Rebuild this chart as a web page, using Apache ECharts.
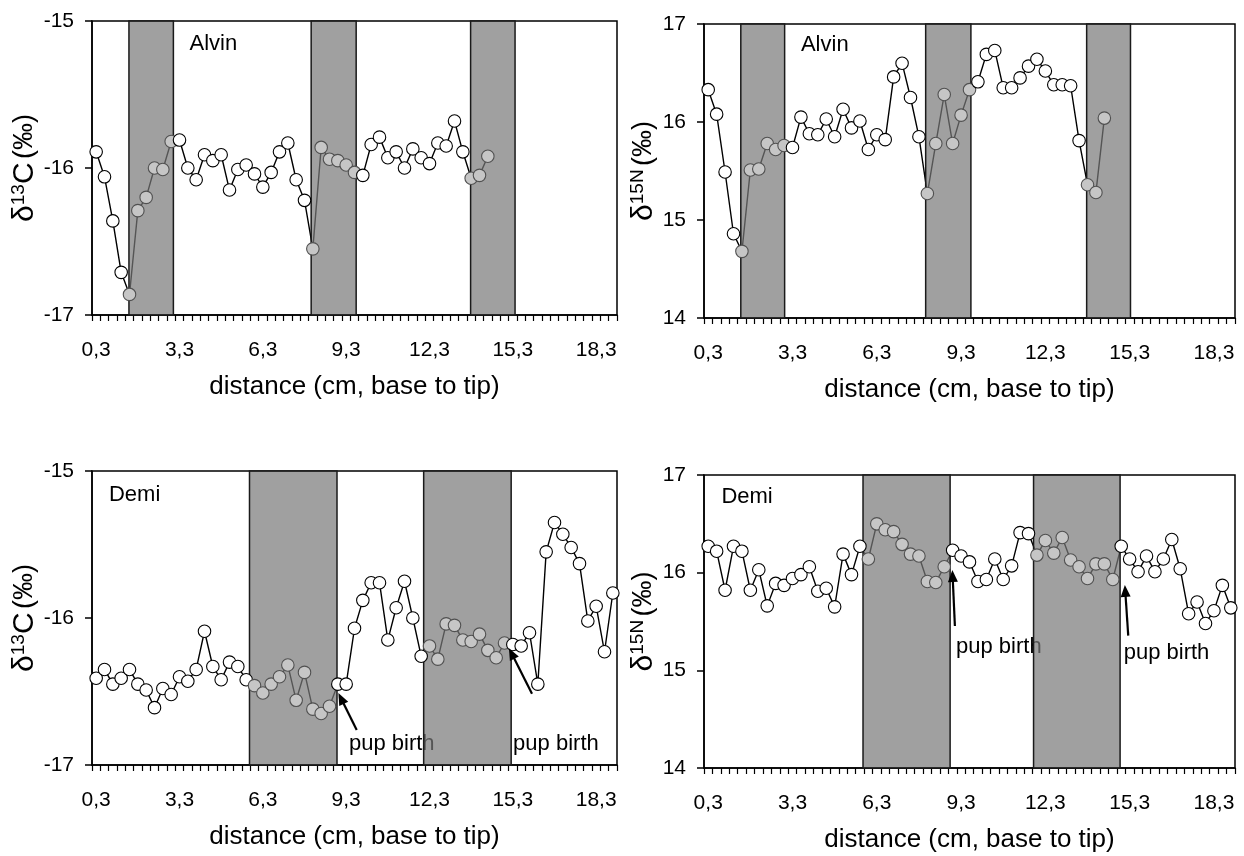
<!DOCTYPE html>
<html>
<head>
<meta charset="utf-8">
<script src="https://cdn.jsdelivr.net/npm/echarts@6/dist/echarts.min.js"></script>
<style>
  html, body { margin: 0; padding: 0; background: #fff; }
  #chart { width: 1244px; height: 856px; }
</style>
</head>
<body>
<div id="chart"></div>
<script>
// Sampling positions along the whisker (cm from base), one every 0.3 cm
const distances = [
  '0,3','0,6','0,9','1,2','1,5','1,8','2,1','2,4','2,7','3,0',
  '3,3','3,6','3,9','4,2','4,5','4,8','5,1','5,4','5,7','6,0',
  '6,3','6,6','6,9','7,2','7,5','7,8','8,1','8,4','8,7','9,0',
  '9,3','9,6','9,9','10,2','10,5','10,8','11,1','11,4','11,7','12,0',
  '12,3','12,6','12,9','13,2','13,5','13,8','14,1','14,4','14,7','15,0',
  '15,3','15,6','15,9','16,2','16,5','16,8','17,1','17,4','17,7','18,0',
  '18,3','18,6','18,9'
];

// Alvin: delta 13C and delta 15N (per mil)
const alvinC = [
  -15.89, -16.06, -16.36, -16.71, -16.86, -16.29, -16.20, -16.00, -16.01, -15.82,
  -15.81, -16.00, -16.08, -15.91, -15.95, -15.91, -16.15, -16.01, -15.98, -16.04,
  -16.13, -16.03, -15.89, -15.83, -16.08, -16.22, -16.55, -15.86, -15.94, -15.95,
  -15.98, -16.03, -16.05, -15.84, -15.79, -15.93, -15.89, -16.00, -15.87, -15.93,
  -15.97, -15.83, -15.85, -15.68, -15.89, -16.07, -16.05, -15.92
];
const alvinN = [
  16.33, 16.08, 15.49, 14.86, 14.68, 15.51, 15.52, 15.78, 15.72, 15.76,
  15.74, 16.05, 15.88, 15.87, 16.03, 15.85, 16.13, 15.94, 16.01, 15.72,
  15.87, 15.82, 16.46, 16.60, 16.25, 15.85, 15.27, 15.78, 16.28, 15.78,
  16.07, 16.33, 16.41, 16.69, 16.73, 16.35, 16.35, 16.45, 16.57, 16.64,
  16.52, 16.38, 16.38, 16.37, 15.81, 15.36, 15.28, 16.04
];

// Demi: delta 13C and delta 15N (per mil)
const demiC = [
  -16.41, -16.35, -16.45, -16.41, -16.35, -16.45, -16.49, -16.61, -16.48, -16.52,
  -16.40, -16.43, -16.35, -16.09, -16.33, -16.42, -16.30, -16.33, -16.42, -16.46,
  -16.51, -16.45, -16.40, -16.32, -16.56, -16.37, -16.62, -16.65, -16.60, -16.45,
  -16.45, -16.07, -15.88, -15.76, -15.76, -16.15, -15.93, -15.75, -16.00, -16.26,
  -16.19, -16.28, -16.04, -16.05, -16.15, -16.16, -16.11, -16.22, -16.27, -16.17,
  -16.18, -16.19, -16.10, -16.45, -15.55, -15.35, -15.43, -15.52, -15.63, -16.02,
  -15.92, -16.23, -15.83
];
const demiN = [
  16.27, 16.22, 15.82, 16.27, 16.22, 15.82, 16.03, 15.66, 15.89, 15.87,
  15.94, 15.98, 16.06, 15.81, 15.84, 15.65, 16.19, 15.98, 16.27, 16.14,
  16.50, 16.44, 16.42, 16.29, 16.19, 16.17, 15.91, 15.90, 16.06, 16.23,
  16.17, 16.11, 15.91, 15.93, 16.14, 15.93, 16.07, 16.41, 16.40, 16.18,
  16.33, 16.20, 16.36, 16.13, 16.06, 15.94, 16.09, 16.09, 15.93, 16.27,
  16.14, 16.01, 16.17, 16.01, 16.14, 16.34, 16.04, 15.58, 15.70, 15.48,
  15.61, 15.87, 15.64
];

// Shaded whisker segments (start cm, end cm)
const alvinCBands = [[1.48, 3.08], [8.04, 9.66], [13.78, 15.38]];
const alvinNBands = [[1.46, 3.02], [8.04, 9.65], [13.77, 15.33]];
const demiCBands  = [[5.82, 8.97], [12.09, 15.24]];
const demiNBands  = [[5.81, 8.91], [11.88, 14.96]];

const FONT = 'Liberation Sans';
const nameC = '{d|δ}{s|13}{d|C} {p|(‰)}';
const nameN = '{d|δ}{s|15N} {p|(‰)}';

const panels = [
  { grid: { left: 92, top: 21, width: 525, height: 294 }, values: alvinC, bands: alvinCBands,
    yMin: -17, yMax: -15, yName: nameC, yGap: 47,
    notes: [{ text: 'Alvin', at: [3.66, -15.156] }], arrows: [] },
  { grid: { left: 704, top: 24, width: 531, height: 294 }, values: alvinN, bands: alvinNBands,
    yMin: 14, yMax: 17, yName: nameN, yGap: 44,
    notes: [{ text: 'Alvin', at: [3.6, 16.786] }], arrows: [] },
  { grid: { left: 92, top: 471, width: 525, height: 294 }, values: demiC, bands: demiCBands,
    yMin: -17, yMax: -15, yName: nameC, yGap: 47,
    notes: [{ text: 'Demi', at: [0.76, -15.16] },
            { text: 'pup birth', at: [9.40, -16.857] },
            { text: 'pup birth', at: [15.31, -16.857] }],
    arrows: [{ from: [9.68, -16.762], to: [9.02, -16.511] },
             { from: [15.99, -16.516], to: [15.16, -16.205] }] },
  { grid: { left: 704, top: 475, width: 531, height: 293 }, values: demiN, bands: demiNBands,
    yMin: 14, yMax: 17, yName: nameN, yGap: 44,
    notes: [{ text: 'Demi', at: [0.77, 16.78] },
            { text: 'pup birth', at: [9.12, 15.236] },
            { text: 'pup birth', at: [15.09, 15.181] }],
    arrows: [{ from: [9.08, 15.454], to: [8.99, 16.027] },
             { from: [15.25, 15.355], to: [15.13, 15.874] }] }
];

const cmOf = i => parseFloat(distances[i].replace(',', '.'));
const insideBand = (bands, i) => bands.some(b => cmOf(i) >= b[0] && cmOf(i) <= b[1]);

const axisLine = { show: true, onZero: false, lineStyle: { color: '#000', width: 1.5 } };
const richName = {
  d: { fontSize: 30, fontFamily: FONT, color: '#000' },
  s: { fontSize: 19, fontFamily: FONT, color: '#000', verticalAlign: 'top' },
  p: { fontSize: 27, fontFamily: FONT, color: '#000' }
};

const grids = [], xAxes = [], yAxes = [], series = [];

panels.forEach((p, k) => {
  grids.push(Object.assign({ show: true, borderColor: '#000', borderWidth: 1.5, backgroundColor: '#fff' }, p.grid));

  // category axis carrying the samples
  xAxes.push({
    type: 'category', gridIndex: k, data: distances, boundaryGap: true, position: 'bottom',
    axisLine: axisLine,
    axisTick: { show: true, interval: 0, length: 6, inside: false, lineStyle: { color: '#000', width: 1.2 } },
    axisLabel: { interval: 9, fontSize: 21, fontFamily: FONT, color: '#000', margin: 25 },
    splitLine: { show: false },
    name: 'distance (cm, base to tip)', nameLocation: 'middle', nameGap: 59,
    nameTextStyle: { fontSize: 26, fontFamily: FONT, color: '#000' }
  });
  // continuous distance axis (cm) used for shaded segments and notes
  xAxes.push({ type: 'value', gridIndex: k, min: 0.15, max: 19.05, show: false });

  yAxes.push({
    type: 'value', gridIndex: k, min: p.yMin, max: p.yMax, interval: 1,
    axisLine: axisLine,
    axisTick: { show: true, length: 7, inside: false, lineStyle: { color: '#000', width: 1.5 } },
    axisLabel: { fontSize: 21, fontFamily: FONT, color: '#000', margin: 18 },
    splitLine: { show: false },
    name: p.yName, nameLocation: 'middle', nameGap: p.yGap,
    nameTextStyle: { fontFamily: FONT, color: '#000', rich: richName }
  });

  series.push({
    type: 'line', xAxisIndex: 2 * k, yAxisIndex: k, data: p.values,
    showSymbol: false, symbol: 'none', z: 2, silent: true, animation: false,
    lineStyle: { color: '#000', width: 1.4 }
  });

  series.push({
    type: 'custom', xAxisIndex: 2 * k + 1, yAxisIndex: k, z: 3, silent: true, animation: false,
    data: p.bands.map(b => [b[0], b[1]]),
    encode: { x: [0, 1] },
    renderItem: (params, api) => {
      const a = api.coord([api.value(0), p.yMax]);
      const b = api.coord([api.value(1), p.yMin]);
      return {
        type: 'rect',
        shape: { x: a[0], y: a[1], width: b[0] - a[0], height: b[1] - a[1] },
        style: { fill: 'rgba(120,120,120,0.706)', stroke: '#1a1a1a', lineWidth: 1.5 }
      };
    }
  });

  series.push({
    type: 'scatter', xAxisIndex: 2 * k, yAxisIndex: k, z: 4, silent: true, animation: false,
    symbol: 'circle', symbolSize: 12.5,
    itemStyle: { opacity: 1 },
    data: p.values.map((v, i) => ({
      value: [i, v],
      itemStyle: insideBand(p.bands, i)
        ? { color: '#c6c6c6', borderColor: '#505050', borderWidth: 1.1, opacity: 1 }
        : { color: '#fff', borderColor: '#000', borderWidth: 1.1, opacity: 1 }
    }))
  });
});

const chart = echarts.init(document.getElementById('chart'), null, { renderer: 'canvas' });
chart.setOption({
  animation: false,
  backgroundColor: '#fff',
  textStyle: { fontFamily: FONT },
  grid: grids, xAxis: xAxes, yAxis: yAxes, series: series
});

// labels and arrows placed in axis units of each panel
const graphics = [];
panels.forEach((p, k) => {
  const toPx = pt => chart.convertToPixel({ xAxisIndex: 2 * k + 1, yAxisIndex: k }, pt);
  p.notes.forEach(n => {
    const q = toPx(n.at);
    graphics.push({
      type: 'text', z: n.text === 'pup birth' ? 1 : 6, silent: true,
      style: { text: n.text, x: q[0], y: q[1], fill: '#000', fontSize: 22, fontFamily: FONT,
               align: 'left', verticalAlign: 'middle' }
    });
  });
  p.arrows.forEach(a => {
    const s = toPx(a.from), t = toPx(a.to);
    const dx = t[0] - s[0], dy = t[1] - s[1];
    const len = Math.hypot(dx, dy), ux = dx / len, uy = dy / len;
    const hl = 12, hw = 5;
    const bx = t[0] - ux * hl, by = t[1] - uy * hl;
    graphics.push({
      type: 'line', z: 6, silent: true,
      shape: { x1: s[0], y1: s[1], x2: bx + ux * 2, y2: by + uy * 2 },
      style: { stroke: '#000', lineWidth: 2.2 }
    });
    graphics.push({
      type: 'polygon', z: 6, silent: true,
      shape: { points: [[t[0], t[1]], [bx - uy * hw, by + ux * hw], [bx + uy * hw, by - ux * hw]] },
      style: { fill: '#000' }
    });
  });
});
chart.setOption({ graphic: { elements: graphics } });
</script>
</body>
</html>
